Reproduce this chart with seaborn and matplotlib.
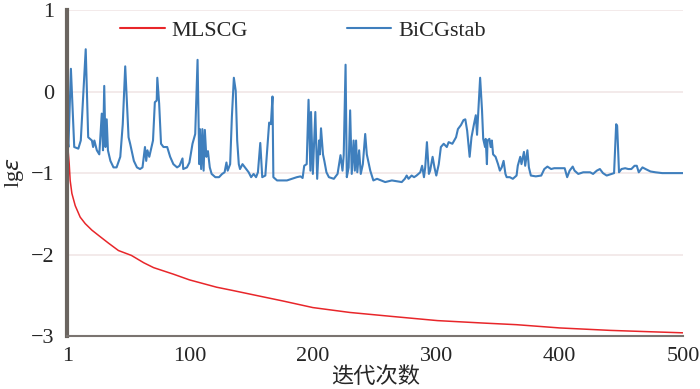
import pandas as pd
import matplotlib.pyplot as plt
import seaborn as sns

# MLSCG convergence
mlscg_iter = [1, 1.5, 2.6, 3.4, 4.8, 7.5, 11.5, 15.6, 21, 27.7, 34.5, 42.5, 53, 63, 71,
              87, 100, 122, 135, 157, 176, 200, 230, 265, 301, 338, 365, 400, 441, 470, 500]
mlscg_err = [-0.60, -0.68, -0.88, -1.09, -1.25, -1.40, -1.54, -1.62, -1.70, -1.78, -1.86,
             -1.95, -2.01, -2.10, -2.16, -2.24, -2.31, -2.40, -2.44, -2.51, -2.57, -2.65,
             -2.71, -2.76, -2.81, -2.84, -2.86, -2.90, -2.93, -2.945, -2.96]

# BiCGstab convergence
bicg_iter = [1, 2, 4, 6.7, 10, 12, 16, 18, 21, 22, 23, 25, 27, 29, 30, 31, 32, 33, 34, 36,
             38.5, 41, 44, 46, 48, 50.7, 52, 55, 57.5, 60, 62, 64, 65, 66, 67.5, 70.5, 72,
             73.5, 74, 75.5, 77, 79, 82, 84.4, 87, 90, 92, 94.4, 95, 98, 100, 102.5, 104.7,
             106.6, 108, 108.5, 109.5, 110.5, 111.5, 112.5, 113.7, 115, 116.5, 118, 121, 124,
             126.5, 128.5, 130, 131, 133, 134.4, 136, 137.5, 138.7, 140, 141, 143, 145, 148,
             150, 152, 154, 155.5, 157.4, 159, 161.5, 163.5, 164.6, 166, 167.3, 168, 171,
             179, 187, 190, 191.7, 193, 195, 196.5, 198, 198.5, 200, 202, 203.5, 205, 205.7,
             206.6, 208.2, 209.3, 211, 213, 217, 220, 222.4, 224, 225, 226.5, 227.5, 229,
             230.2, 231.5, 233, 234, 235, 236, 237.5, 238.8, 240.5, 242.4, 243.7, 246.5,
             249, 252, 258.6, 264, 272, 274.5, 276, 277.5, 280, 282, 284, 287, 288.5, 290,
             291, 292.4, 294, 295, 297, 298.5, 300, 302, 303.7, 306, 308.5, 310, 313, 316,
             317.5, 320, 322, 323.5, 325, 327, 328.5, 330.5, 332, 333, 335.5, 337, 338,
             339.5, 340, 341, 341.5, 343, 344, 345, 346, 348, 350, 351.5, 353, 354.5, 356,
             357, 359.5, 362, 365, 366, 368, 369, 371, 372, 373.8, 375, 376.6, 380.6, 385,
             387.5, 390, 393, 395.5, 400.9, 404, 406, 408, 410.5, 412, 415, 419, 424.6, 427,
             430, 432.5, 435, 438, 442, 444, 445.7, 446.5, 448, 450, 453, 455.5, 458, 460.6,
             462.4, 464, 467, 469.5, 473.5, 477.5, 483, 491, 500]
bicg_err = [-0.56, -0.68, 0.28, -0.68, -0.70, -0.60, 0.52, -0.56, -0.60, -0.68, -0.60,
            -0.72, -0.77, -0.27, -0.72, 0.07, -0.68, -0.34, -0.72, -0.85, -0.93, -0.93,
            -0.80, -0.40, 0.31, -0.56, -0.64, -0.85, -0.93, -0.95, -0.93, -0.68, -0.85,
            -0.72, -0.80, -0.60, -0.13, -0.11, 0.17, -0.15, -0.64, -0.68, -0.68, -0.80,
            -0.89, -0.93, -0.91, -0.82, -0.95, -0.93, -0.87, -0.64, -0.52, 0.39, -0.89,
            -0.46, -0.95, -0.46, -0.97, -0.47, -0.80, -0.73, -0.93, -1.01, -1.05, -1.05,
            -1.01, -0.99, -0.87, -0.97, -0.89, -0.31, 0.17, 0.01, -0.60, -0.89, -0.95,
            -0.89, -0.93, -0.99, -1.05, -1.01, -1.05, -0.99, -0.63, -1.05, -1.03, -0.60,
            -0.38, -0.40, -0.06, -1.05, -1.09, -1.09, -1.05, -1.04, -1.06, -0.91, -0.89,
            -0.10, -0.97, -0.25, -1.01, -0.25, -1.07, -0.60, -0.77, -0.45, -0.77, -0.85,
            -0.99, -1.05, -1.07, -1.01, -0.78, -0.97, -0.78, 0.33, -1.05, -0.93, -0.23,
            -1.01, -0.60, -0.97, -0.60, -0.99, -0.72, -1.01, -0.89, -0.52, -0.77, -0.97,
            -1.09, -1.07, -1.11, -1.09, -1.11, -1.07, -1.03, -1.07, -1.03, -1.05, -1.03,
            -0.99, -0.91, -1.05, -0.93, -0.62, -1.01, -0.97, -0.80, -0.93, -1.03, -0.89,
            -0.68, -0.64, -0.68, -0.62, -0.64, -0.56, -0.46, -0.41, -0.35, -0.34, -0.48,
            -0.80, -0.56, -0.40, -0.29, -0.53, 0.17, -0.22, -0.58, -0.68, -0.58, -0.89,
            -0.60, -0.58, -0.68, -0.60, -0.77, -0.80, -0.89, -0.97, -0.93, -0.85, -1.01,
            -1.05, -1.05, -1.07, -1.03, -0.91, -0.80, -0.89, -0.74, -0.91, -0.72, -0.93,
            -1.03, -1.04, -1.03, -0.95, -0.92, -0.95, -0.94, -0.94, -0.94, -1.05, -0.97,
            -0.92, -0.97, -1.01, -0.99, -0.99, -1.01, -0.97, -0.95, -1.00, -1.03, -1.01,
            -1.00, -0.40, -0.42, -0.99, -0.95, -0.94, -0.95, -0.95, -0.91, -0.91, -0.99,
            -0.93, -0.95, -0.98, -0.99, -1.00, -1.00, -1.00]

x_ticks = [1, 100, 200, 300, 400, 500]
y_ticks = [-3, -2, -1, 0, 1]

df = pd.concat([
    pd.DataFrame({'iter': mlscg_iter, 'err': mlscg_err, 'method': 'MLSCG'}),
    pd.DataFrame({'iter': bicg_iter, 'err': bicg_err, 'method': 'BiCGstab'}),
])

sns.set_style('white')
plt.rcParams['font.family'] = ['Liberation Serif', 'Noto Sans CJK SC']
plt.rcParams['axes.unicode_minus'] = True

fig = plt.figure(figsize=(7, 3.89), dpi=100)
ax = fig.add_axes([0.096, 0.136, 0.88, 0.838])

ax = sns.lineplot(
    data=df, x='iter', y='err', hue='method',
    palette={'MLSCG': '#e8262a', 'BiCGstab': '#3f7fbd'},
    linewidth=1.5, ax=ax, sort=False, estimator=None
)
ax.lines[0].set_linewidth(1.1)

ax.set_xlim(1, 500)
ax.set_ylim(-3, 1)
ax.set_xticks(x_ticks)
ax.set_yticks(y_ticks)
ax.tick_params(axis='both', labelsize=16, direction='out', color='#5a5450')
ax.tick_params(axis='y', length=7, width=1.2, pad=2)
ax.tick_params(axis='x', length=5, width=1.2, pad=3)

# faint horizontal grid
ax.yaxis.grid(True, color='#f1e6e6', linewidth=1.2)
ax.set_axisbelow(True)

for side in ['top', 'right']:
    ax.spines[side].set_visible(False)
ax.spines['left'].set_color('#6b6560')
ax.spines['left'].set_linewidth(3)
ax.spines['bottom'].set_color('#7a7470')
ax.spines['bottom'].set_linewidth(1.5)

ax.set_xlabel('迭代次数', fontsize=16, labelpad=1)
ax.set_ylabel('lg$\\varepsilon$', fontsize=16, labelpad=4)

# legend across the top, no frame
leg = ax.legend(
    loc='upper left', bbox_to_anchor=(0.054, 1.03), ncol=2, frameon=False,
    fontsize=16, handlelength=2.0, columnspacing=4.45, handletextpad=0.3
)
for h in leg.get_lines():
    h.set_linewidth(1.5)

plt.savefig('out.png', dpi=100)
